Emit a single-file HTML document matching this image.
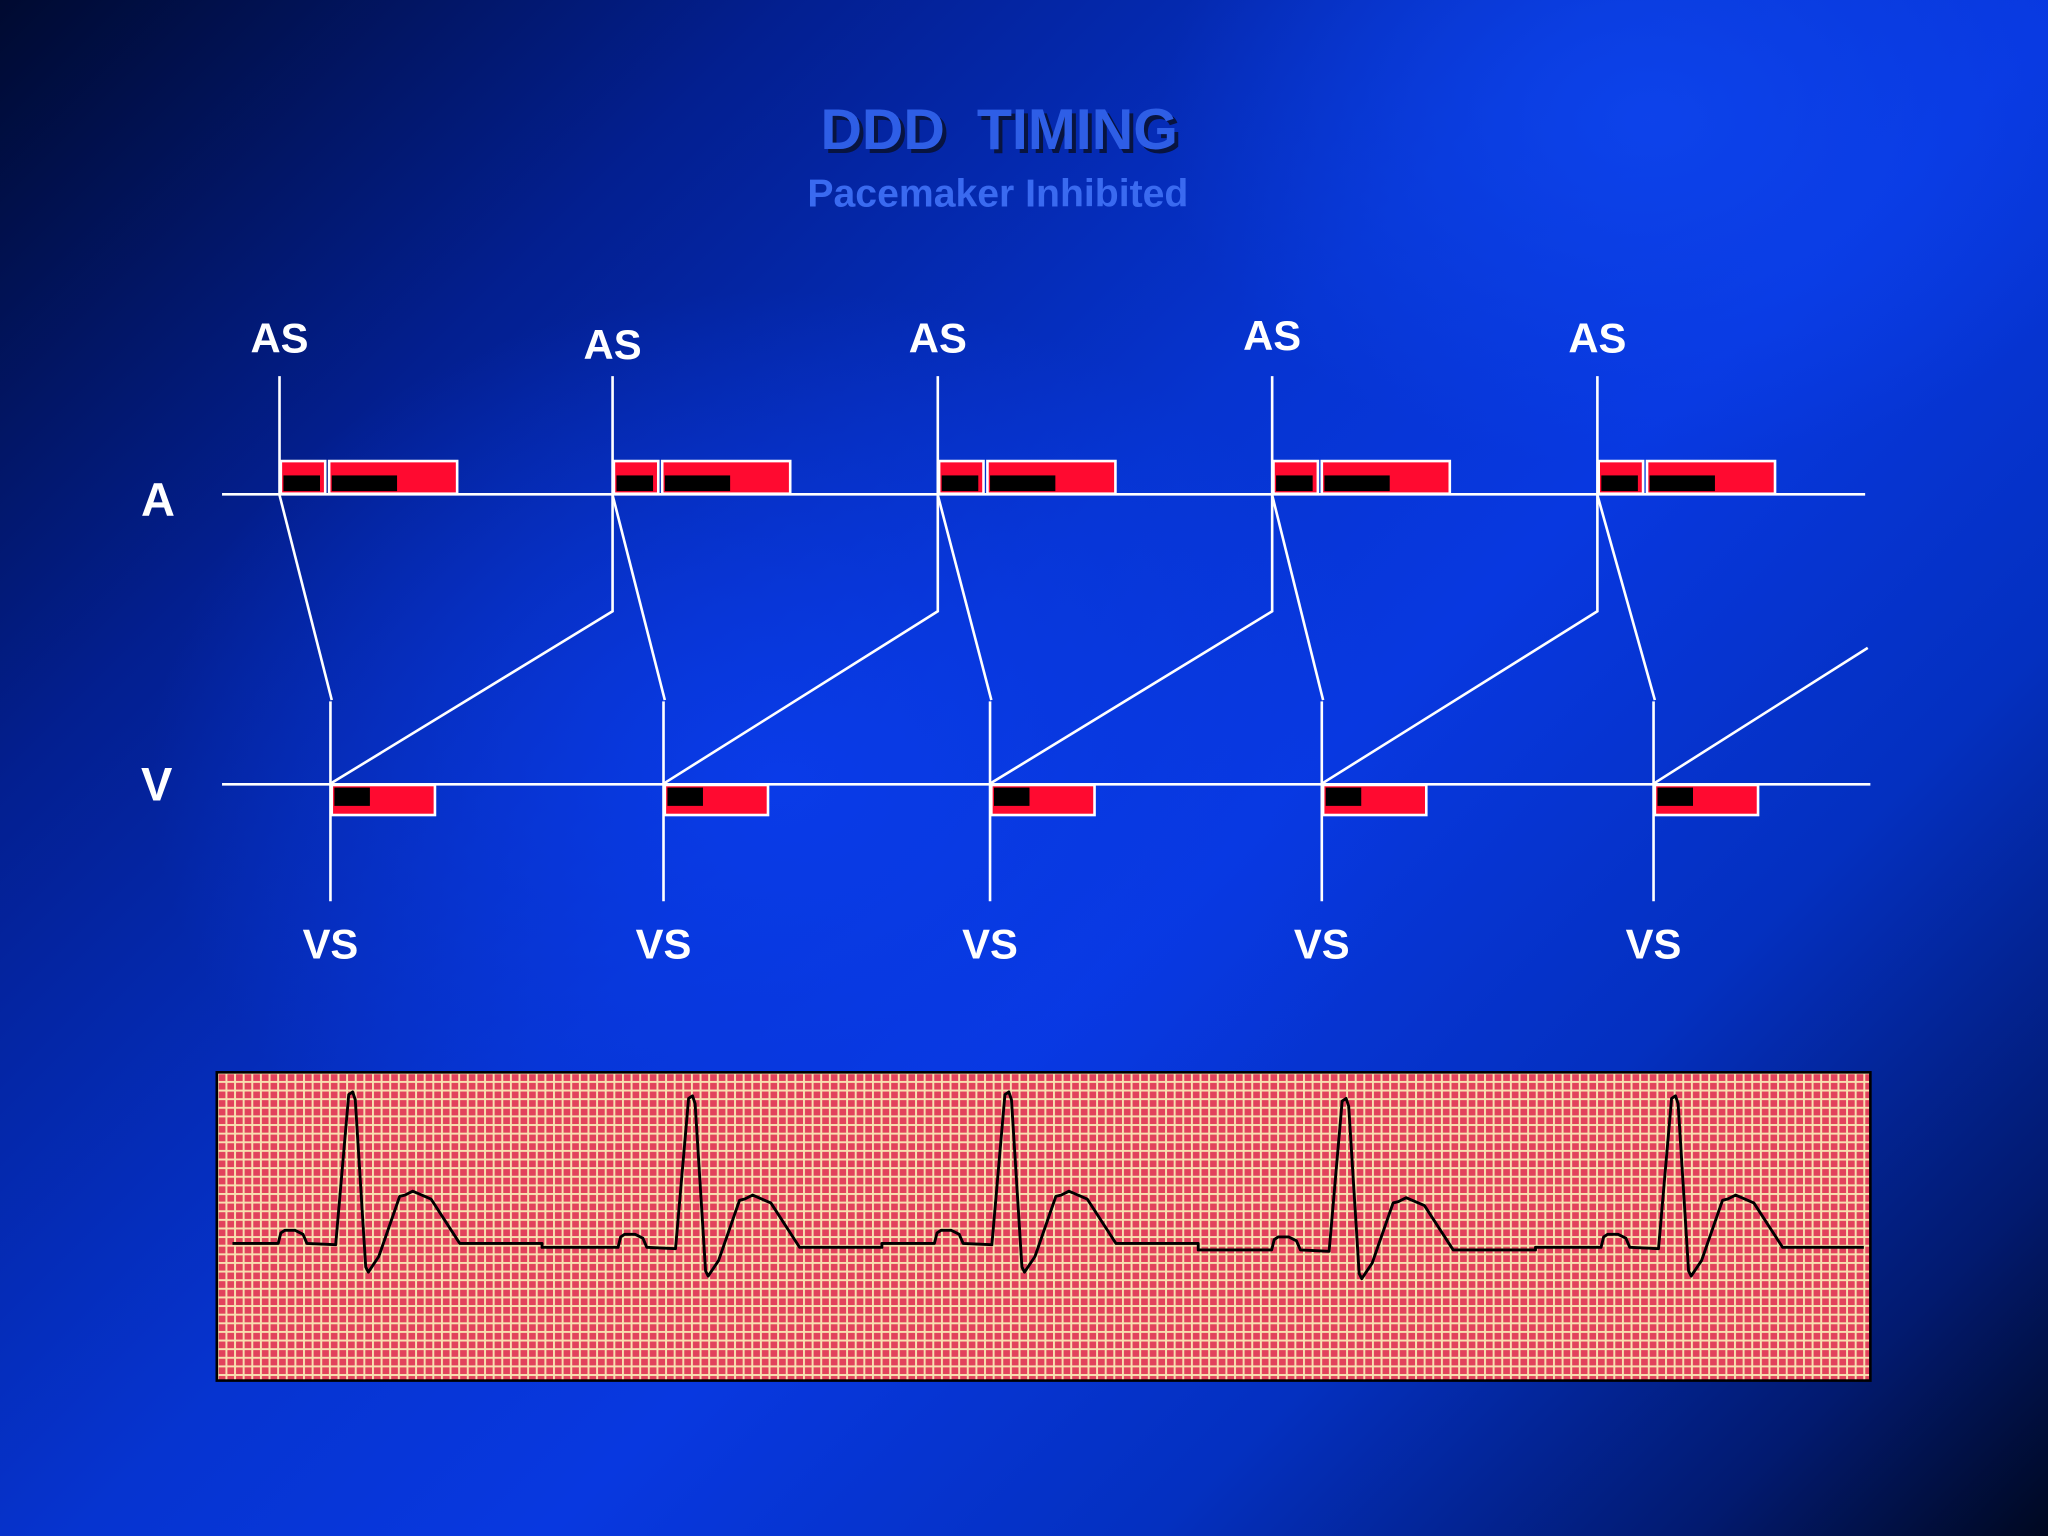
<!DOCTYPE html>
<html><head><meta charset="utf-8">
<style>
html,body{margin:0;padding:0;}
body{width:2048px;height:1536px;overflow:hidden;font-family:"Liberation Sans",Arial,sans-serif;
background:
radial-gradient(ellipse 900px 700px at 780px 780px, rgba(10,60,235,0.9), rgba(10,60,235,0) 70%),
radial-gradient(ellipse 700px 500px at 1650px 120px, rgba(15,70,240,0.8), rgba(15,70,240,0) 70%),
linear-gradient(135deg,#000a30 0%,#031f90 22%,#0634d0 45%,#0838e0 58%,#0430c0 75%,#021a70 90%,#000820 100%);}
svg{position:absolute;left:0;top:0;}
</style></head><body>
<svg id="chart" width="2048" height="1536" viewBox="0 0 1568 1176">
  <defs>
    <pattern id="grid" width="6.6" height="6.6" patternUnits="userSpaceOnUse" x="166" y="821">
      <rect width="6.6" height="6.6" fill="#f8dfb0"/>
      <rect x="1.5" y="1.5" width="5.1" height="5.1" fill="#e2425c"/>
    </pattern>
  </defs>
  <text x="768" y="117" text-anchor="middle" font-size="44" font-weight="bold" fill="#081440" xml:space="preserve">DDD  TIMING</text>
  <text x="765" y="114" text-anchor="middle" font-size="44" font-weight="bold" fill="#2e5ee6" xml:space="preserve">DDD  TIMING</text>
  <text x="764" y="158" text-anchor="middle" font-size="30" font-weight="bold" fill="#3a6af0">Pacemaker Inhibited</text>
  <text x="121" y="395" text-anchor="middle" font-size="36" font-weight="bold" fill="#fff">A</text>
  <text x="120" y="613" text-anchor="middle" font-size="36" font-weight="bold" fill="#fff">V</text>
  <line x1="170" y1="378.5" x2="1428" y2="378.5" stroke="#fff" stroke-width="2"/>
  <line x1="170" y1="600.5" x2="1432" y2="600.5" stroke="#fff" stroke-width="2"/>
  <g id="timing"></g>
  <rect x="166" y="821" width="1266" height="236" fill="url(#grid)" stroke="#000" stroke-width="2"/>
  <path id="ecg" fill="none" stroke="#000" stroke-width="2.2" stroke-linejoin="round"/>
</svg>
<script>
// timing data (ms)
const asTimes = [0, 1020, 2016, 3040, 4036];
const asLabelOffsets = [0, 5, 0, -2, 0];
const vsTimes = [156, 1176, 2176, 3192, 4208];
const arpSmallMs = 144;
const arpBigMs = 400;
const vrpMs = 320;
// ECG data
const rPeakTimes = [224, 1264, 2232, 3264, 4272];
const baselineLevels = [952, 955, 952, 957, 955];
const beatShapeDx = [-57,-55,-52,-44,-38,-35,-13,-3,0,2,10,12,20,36,40,46,60,82];
const beatShapeDy = [0,-8,-10,-10,-7,0,1,-114,-116,-110,18,22,10,-36,-37,-40,-34,0];

const x0 = 214, pxPerMs = 0.25;
const xs = t => x0 + t * pxPerMs;
const NS = 'http://www.w3.org/2000/svg';
const g = document.getElementById('timing');
function mk(tag, attrs, parent){
  const e = document.createElementNS(NS, tag);
  for (const k in attrs) e.setAttribute(k, attrs[k]);
  (parent||g).appendChild(e);
  return e;
}
const W = '#fff';
asTimes.forEach((t, i) => {
  const ax = xs(t);
  const lbl = mk('text', {x: ax, y: 270 + asLabelOffsets[i], 'text-anchor':'middle', 'font-size':32, 'font-weight':'bold', fill:W});
  lbl.textContent = 'AS';
  
  
  const l = mk('line', {x1:ax, y1:288, x2:ax, y2:378, stroke:W, 'stroke-width':2});
  
  
  const sw = arpSmallMs * pxPerMs, bw = arpBigMs * pxPerMs;
  const r1 = mk('rect', {x:ax+1, y:353, width:sw-2, height:25, fill:'#ff0a30', stroke:W, 'stroke-width':2});
  
  
  const b1 = mk('rect', {x:ax+3, y:364, width:sw-8, height:12, fill:'#000'});
  
  
  const r2 = mk('rect', {x:ax+sw+2, y:353, width:bw-2, height:25, fill:'#ff0a30', stroke:W, 'stroke-width':2});
  
  
  const b2 = mk('rect', {x:ax+sw+4, y:364, width:bw/2, height:12, fill:'#000'});
  
  
  const vx = xs(vsTimes[i]);
  const sl = mk('polyline', {points:`${ax},379 ${vx+1},536`, fill:'none', stroke:W, 'stroke-width':2});
  
  
});
vsTimes.forEach((t, i) => {
  const vx = xs(t);
  const l = mk('line', {x1:vx, y1:537, x2:vx, y2:690, stroke:W, 'stroke-width':2});
  
  
  const lbl = mk('text', {x: vx, y: 734, 'text-anchor':'middle', 'font-size':32, 'font-weight':'bold', fill:W});
  lbl.textContent = 'VS';
  
  
  const w = vrpMs * pxPerMs;
  const r = mk('rect', {x:vx+1, y:601, width:w-1, height:23, fill:'#ff0a30', stroke:W, 'stroke-width':2});
  
  
  const b = mk('rect', {x:vx+3, y:603, width:w*0.34, height:14, fill:'#000'});
  
  
  let pts;
  if (i + 1 < asTimes.length) {
    const nx = xs(asTimes[i+1]);
    pts = `${vx},600 ${nx},468 ${nx},379`;
  } else {
    pts = `${vx},600 ${xs(t + 656)},496`;
  }
  const d = mk('polyline', {points:pts, fill:'none', stroke:W, 'stroke-width':2});
  
  
});
// ECG
const ex0 = 270, ePx = 0.2502;
let path = '';
rPeakTimes.forEach((t, i) => {
  const px = ex0 + (t - rPeakTimes[0]) * ePx;
  const base = baselineLevels[i];
  if (i === 0) path += `M178,${base} `;
  beatShapeDx.forEach((dx, j) => {
    path += `L${(px + dx).toFixed(1)},${base + beatShapeDy[j]} `;
  });
  if (i + 1 < rPeakTimes.length) {
    const nx = ex0 + (rPeakTimes[i+1] - rPeakTimes[0]) * ePx;
    const mid = px + 145;
    path += `L${mid.toFixed(1)},${base} L${mid.toFixed(1)},${baselineLevels[i+1]} L${(nx - 57).toFixed(1)},${baselineLevels[i+1]} `;
  }
});
path += `L1427,${baselineLevels[baselineLevels.length-1]}`;
document.getElementById('ecg').setAttribute('d', path);
</script>
</body></html>
